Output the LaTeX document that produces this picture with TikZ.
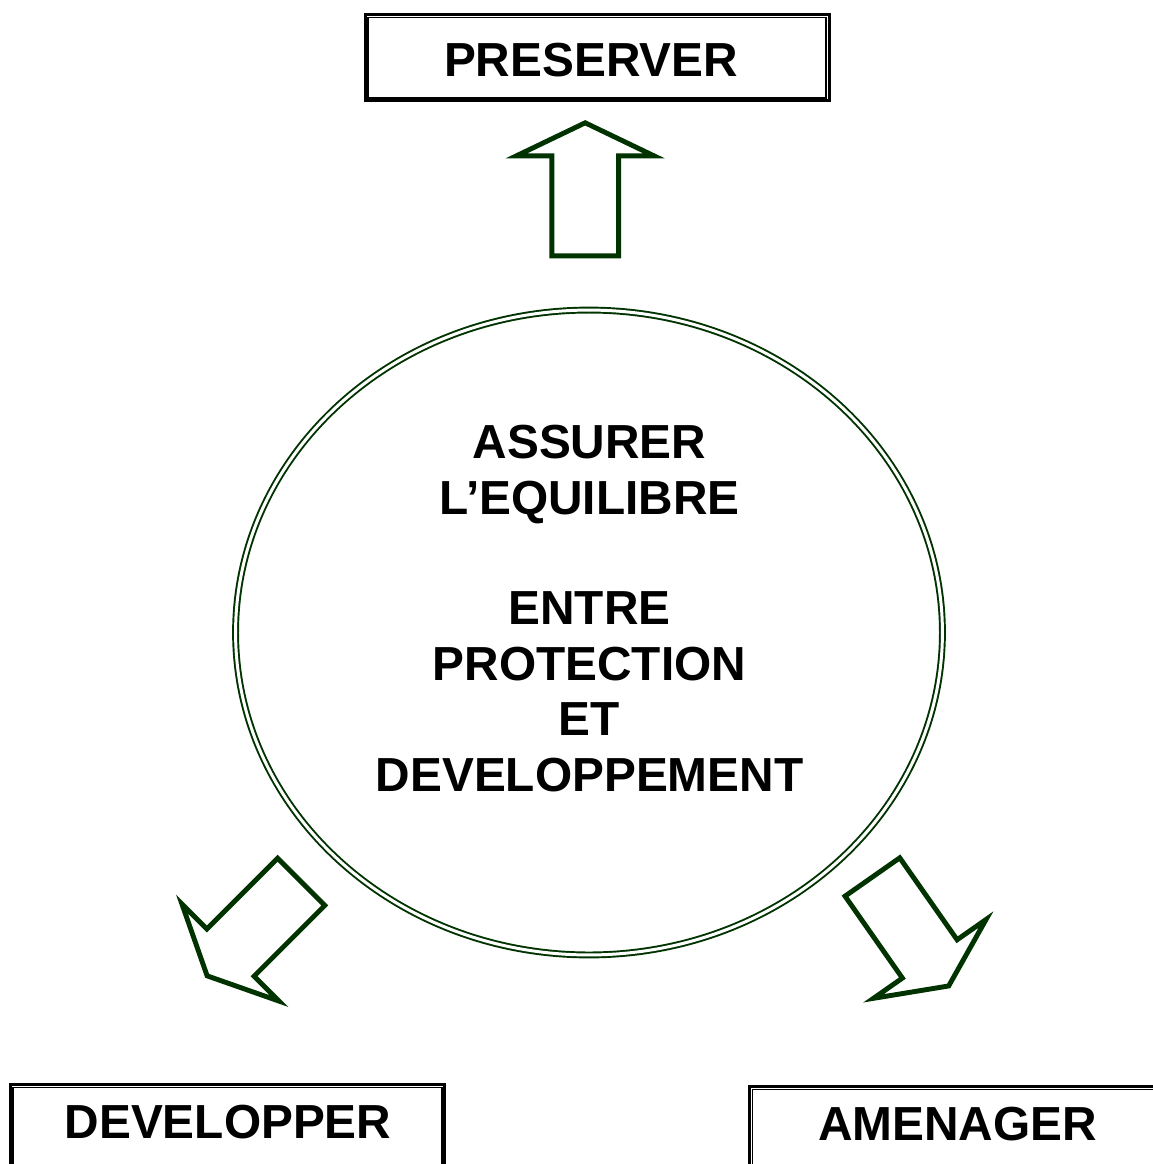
\documentclass[tikz,border=0pt]{standalone}
\usepackage{fontspec}
\setmainfont{Liberation Sans}
\usetikzlibrary{shapes.geometric}

\definecolor{vertfonce}{RGB}{0,51,0}

\tikzset{
  cadre/.style={draw=black, line width=1.7pt, inner sep=0pt},
  titre/.style={font=\bfseries\fontsize{27.2pt}{31.5pt}\selectfont, inner sep=0pt, anchor=base},
  flechetrait/.style={draw=vertfonce, line width=2.8pt},
  pics/fleche/.style={code={
    \draw[flechetrait] (-33.4,0) -- (-33.4,-100) -- (-68.7,-100) -- (0,-133) -- (68.7,-100) -- (33.4,-100) -- (33.4,0) -- cycle;
  }}
}

\begin{document}
\begin{tikzpicture}[x=0.02cm, y=-0.02cm]
        \useasboundingbox (0,0) rectangle (1153,1164);
        \clip (0,0) rectangle (1153,1164);

        % cadres
        \node[cadre, minimum width=9.28cm, minimum height=1.73cm] (cadreP) at (597.2,57.7) {};
        \node[cadre, minimum width=8.7cm, minimum height=2.4cm] (cadreD) at (227.5,1144.3) {};
        \node[cadre, minimum width=9.2cm, minimum height=2.4cm] (cadreA) at (979.5,1146.5) {};
        \foreach \c in {cadreP,cadreD,cadreA}
            \draw[line width=0.9pt] ([shift={(4.5,4.5)}]\c.north west) rectangle ([shift={(-4.5,-4.5)}]\c.south east);

        \node[titre] (preserver) at (591,76.5) {PRESERVER};
        \node[titre] (developper) at (228,1138.3) {DEVELOPPER};
        \node[titre] (amenager) at (957.5,1140) {AMENAGER};

        % ellipse
        \node[ellipse, draw=vertfonce, line width=1.1pt, double, double distance=1.7pt,
              minimum width=14.14cm, minimum height=12.9cm, inner sep=0pt] (equilibre) at (589,632.5) {};
        \node[titre, align=center] (texte) at (589.5,791)
            {ASSURER\\L’EQUILIBRE\\[31.5pt]ENTRE\\PROTECTION\\ET\\DEVELOPPEMENT};

        % fleches
        \pic at (585.2,255.8) {fleche};
        \pic[rotate=135] at (301.2,881.8) {fleche};
        \pic[rotate=-145] at (872.4,877) {fleche};
    \end{tikzpicture}
\end{document}
